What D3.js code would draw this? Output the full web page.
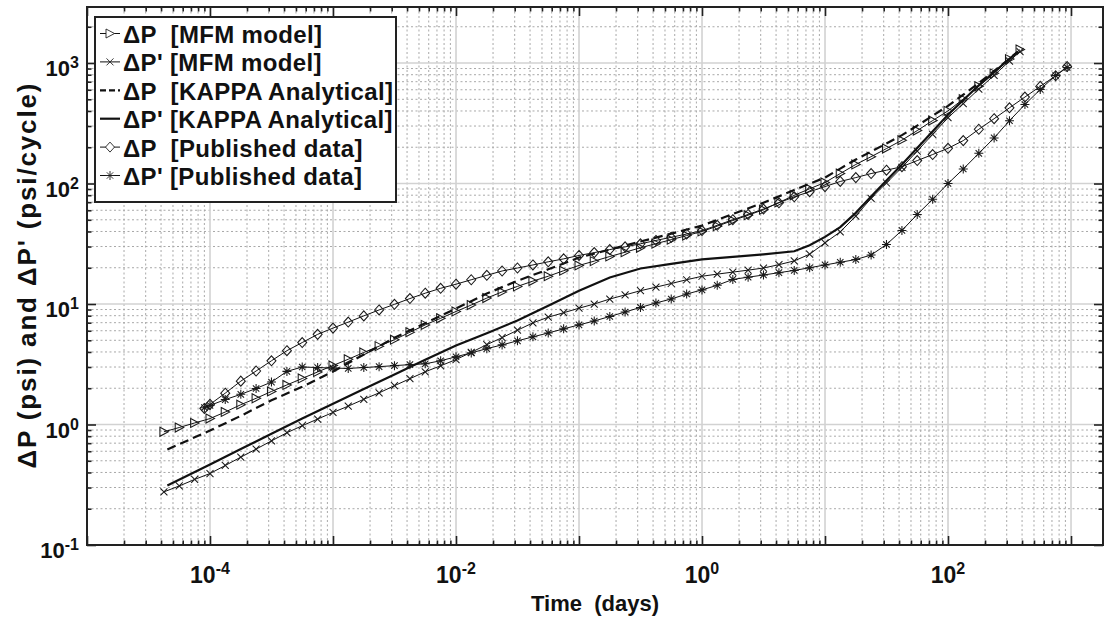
<!DOCTYPE html>
<html>
  <head>
    <meta charset="utf-8">
    <title> Pressure and derivative vs time </title>
    <script src="https://d3js.org/d3.v7.min.js"></script>
    <style>
      body { margin: 0; background: #fff; }
      text { font-family: "Liberation Sans", Arial, sans-serif; font-weight: bold; fill: #111; }
    </style>
  </head>
  <body>
  <svg width="1105" height="622"></svg>
  <script>

    //model time steps (days) and values
    var tModel = [4.22e-5, 5.62e-5, 7.5e-5, 1e-4, 1.33e-4, 1.78e-4, 2.37e-4, 3.16e-4, 4.22e-4, 5.62e-4, 7.5e-4,
      1e-3, 1.33e-3, 1.78e-3, 2.37e-3, 3.16e-3, 4.22e-3, 5.62e-3, 7.5e-3, 0.01, 0.0133, 0.0178, 0.0237, 0.0316,
      0.0422, 0.0562, 0.075, 0.1, 0.133, 0.178, 0.237, 0.316, 0.422, 0.562, 0.75, 1, 1.33, 1.78, 2.37, 3.16, 4.22,
      5.62, 7.5, 10, 13.3, 17.8, 23.7, 31.6, 42.2, 56.2, 75, 100, 133, 178, 237, 316, 385];
    var mfmDP = [0.87, 0.944, 1.03, 1.12, 1.27, 1.46, 1.65, 1.88, 2.13, 2.41, 2.73, 3.09, 3.48, 3.96, 4.47, 5.06,
      5.83, 6.71, 7.61, 8.67, 9.81, 11.2, 12.6, 14.0, 15.5, 17.0, 18.9, 20.9, 22.7, 24.8, 26.9, 29.3, 31.7, 34.2,
      37.0, 40.0, 44.3, 49.3, 54.6, 60.6, 69.6, 79.8, 90.5, 102, 121, 144, 167, 195, 229, 275, 333, 401, 502, 641,
      821, 1078, 1294];
    var mfmDPd = [0.276, 0.309, 0.350, 0.392, 0.457, 0.536, 0.625, 0.731, 0.855, 0.977, 1.11, 1.26, 1.42, 1.62,
      1.83, 2.10, 2.40, 2.74, 3.07, 3.46, 3.97, 4.60, 5.26, 6.06, 6.98, 7.77, 8.47, 9.23, 10.0, 11.0, 11.9, 12.9,
      13.8, 14.8, 15.9, 17.0, 17.7, 18.4, 19.1, 19.9, 21.2, 22.8, 25.9, 32.2, 39.7, 53.7, 75.4, 101, 136, 186, 256,
      352, 460, 608, 791, 1037, 1246];

    //KAPPA analytical solution
    var tKappa = [4.5e-5, 1e-4, 1.78e-4, 3.16e-4, 5.62e-4, 1e-3, 1.78e-3, 3.16e-3, 5.62e-3, 0.01, 0.0178, 0.0316,
      0.0562, 0.1, 0.178, 0.316, 0.562, 1, 1.78, 3.16, 5.62, 7.5, 10, 13.3, 17.8, 23.7, 31.6, 42.2, 56.2, 100, 178,
      316, 371];
    var kappaDP = [0.620, 0.892, 1.18, 1.59, 2.06, 2.75, 3.81, 5.24, 6.93, 9.18, 12.2, 15.6, 19.4, 24.3, 28.3, 33.0,
      38.4, 44.8, 55.8, 69.3, 88.3, 99.6, 112, 133, 158, 184, 215, 252, 302, 441, 681, 1086, 1246];
    var kappaDPd = [0.312, 0.466, 0.625, 0.837, 1.12, 1.49, 1.97, 2.60, 3.44, 4.52, 5.73, 7.30, 9.66, 12.9, 16.6,
      19.7, 21.5, 23.5, 24.6, 25.8, 27.4, 30.7, 36.1, 43.5, 57.1, 78.2, 106, 144, 197, 372, 654, 1086, 1246];

    //published field data
    var tPub = [9e-5, 1e-4, 1.33e-4, 1.78e-4, 2.37e-4, 3.16e-4, 4.22e-4, 5.62e-4, 7.5e-4, 1e-3, 1.33e-3, 1.78e-3,
      2.37e-3, 3.16e-3, 4.22e-3, 5.62e-3, 7.5e-3, 0.01, 0.0133, 0.0178, 0.0237, 0.0316, 0.0422, 0.0562, 0.075, 0.1,
      0.133, 0.178, 0.237, 0.316, 0.422, 0.562, 0.75, 1, 1.33, 1.78, 2.37, 3.16, 4.22, 5.62, 7.5, 10, 13.3, 17.8,
      23.7, 31.6, 42.2, 56.2, 75, 100, 133, 178, 237, 316, 422, 562, 750, 930];
    var pubDP = [1.36, 1.47, 1.82, 2.29, 2.78, 3.38, 4.10, 4.79, 5.60, 6.31, 7.08, 7.97, 8.93, 9.94, 11.1, 12.3,
      13.5, 14.6, 15.9, 17.3, 18.8, 19.9, 21.1, 22.4, 23.7, 25.3, 26.7, 28.3, 29.8, 31.6, 33.7, 35.8, 38.1, 40.7,
      45.0, 50.1, 55.4, 61.4, 69.2, 77.6, 85.5, 94.3, 104, 112, 121, 129, 138, 155, 174, 196, 227, 282, 345, 425,
      522, 640, 783, 935];
    var pubDPd = [1.38, 1.44, 1.61, 1.78, 1.99, 2.25, 2.76, 3.00, 2.97, 2.94, 2.92, 2.97, 3.02, 3.08, 3.14, 3.19,
      3.38, 3.65, 3.93, 4.26, 4.58, 4.95, 5.34, 5.75, 6.22, 6.71, 7.23, 7.88, 8.58, 9.37, 10.2, 11.0, 12.1, 13.1,
      14.3, 16.0, 16.7, 17.4, 18.2, 19.0, 20.0, 21.1, 22.2, 23.4, 25.5, 31.2, 40.8, 55.3, 74.0, 100, 132, 178, 239,
      332, 453, 603, 788, 918];

    var legendLabels = ["ΔP  [MFM model]", "ΔP' [MFM model]", "ΔP  [KAPPA Analytical]",
      "ΔP' [KAPPA Analytical]", "ΔP  [Published data]", "ΔP' [Published data]"];
    var xLabelExp = [-4, -2, 0, 2];
    var yLabelExp = [-1, 0, 1, 2, 3];

    //setting initial vars
    var svg = d3.select("svg");
    var pLeft = 87, pRight = 1103, pTop = 7, pBottom = 545;

    var x = d3.scaleLog().domain([1e-5, Math.pow(10, 3.26)]).range([pLeft, pRight]);
    var y = d3.scaleLog().domain([0.1, Math.pow(10, 3.465)]).range([pBottom, pTop]);

    //decade and in-between positions of a log scale
    function logPositions(scale) {
      var dom = scale.domain(), major = [], minor = [];
      var lo = Math.floor(Math.log10(dom[0])), hi = Math.ceil(Math.log10(dom[1]));
      for (var d = lo; d <= hi; d++) {
        var p = Math.pow(10, d);
        if (p >= dom[0] * 0.999 && p <= dom[1]) major.push(p);
        for (var k = 2; k <= 9; k++) {
          if (k * p > dom[0] && k * p < dom[1]) minor.push(k * p);
        }
      }
      return {major: major, minor: minor};
    }
    var xp = logPositions(x), yp = logPositions(y);

    //grid: dotted minor, solid light major
    var grid = svg.append("g");
    grid.selectAll(".vmin").data(xp.minor).enter().append("line")
      .attr("x1", function(d) { return x(d); }).attr("x2", function(d) { return x(d); })
      .attr("y1", pTop).attr("y2", pBottom)
      .attr("stroke", "#a8a8a8").attr("stroke-width", 1).attr("stroke-dasharray", "2,2.5");
    grid.selectAll(".hmin").data(yp.minor).enter().append("line")
      .attr("y1", function(d) { return y(d); }).attr("y2", function(d) { return y(d); })
      .attr("x1", pLeft).attr("x2", pRight)
      .attr("stroke", "#a8a8a8").attr("stroke-width", 1).attr("stroke-dasharray", "2,2.5");
    grid.selectAll(".vmaj").data(xp.major).enter().append("line")
      .attr("x1", function(d) { return x(d); }).attr("x2", function(d) { return x(d); })
      .attr("y1", pTop).attr("y2", pBottom)
      .attr("stroke", "#d2d2d2").attr("stroke-width", 1.6);
    grid.selectAll(".hmaj").data(yp.major).enter().append("line")
      .attr("y1", function(d) { return y(d); }).attr("y2", function(d) { return y(d); })
      .attr("x1", pLeft).attr("x2", pRight)
      .attr("stroke", "#d2d2d2").attr("stroke-width", 1.6);

    //marker shapes
    function markerPath(type, cx, cy) {
      if (type == "tri") return "M" + (cx - 4) + "," + (cy - 4.5) + "L" + (cx + 4.5) + "," + cy + "L" + (cx - 4) + "," + (cy + 4.5) + "Z";
      if (type == "x") return "M" + (cx - 3.5) + "," + (cy - 3.5) + "L" + (cx + 3.5) + "," + (cy + 3.5) +
        "M" + (cx - 3.5) + "," + (cy + 3.5) + "L" + (cx + 3.5) + "," + (cy - 3.5);
      if (type == "dia") return "M" + cx + "," + (cy - 5) + "L" + (cx + 4.5) + "," + cy + "L" + cx + "," + (cy + 5) + "L" + (cx - 4.5) + "," + cy + "Z";
      if (type == "star") return "M" + (cx - 4.5) + "," + cy + "L" + (cx + 4.5) + "," + cy + "M" + cx + "," + (cy - 4.5) + "L" + cx + "," + (cy + 4.5) +
        "M" + (cx - 3.2) + "," + (cy - 3.2) + "L" + (cx + 3.2) + "," + (cy + 3.2) + "M" + (cx - 3.2) + "," + (cy + 3.2) + "L" + (cx + 3.2) + "," + (cy - 3.2);
      return "";
    }

    var series = [
      {t: tModel, v: mfmDP, marker: "tri", dash: null, width: 1},
      {t: tModel, v: mfmDPd, marker: "x", dash: null, width: 1},
      {t: tKappa, v: kappaDP, marker: null, dash: "9,5", width: 2.2},
      {t: tKappa, v: kappaDPd, marker: null, dash: null, width: 2.2},
      {t: tPub, v: pubDP, marker: "dia", dash: null, width: 1},
      {t: tPub, v: pubDPd, marker: "star", dash: null, width: 1}
    ];

    var line = d3.line()
      .x(function(d) { return x(d[0]); })
      .y(function(d) { return y(d[1]); });

    //adding the curves
    series.forEach(function(s) {
      var pts = s.t.map(function(t, i) { return [t, s.v[i]]; });
      var g = svg.append("g");
      g.append("path")
        .datum(pts)
        .attr("d", line)
        .attr("fill", "none")
        .attr("stroke", "#111")
        .attr("stroke-width", s.width)
        .attr("stroke-dasharray", s.dash);
      if (s.marker) {
        g.selectAll("path.mk")
          .data(pts)
          .enter()
          .append("path")
          .attr("class", "mk")
          .attr("d", function(d) { return markerPath(s.marker, x(d[0]), y(d[1])); })
          .attr("fill", "none")
          .attr("stroke", "#1a1a1a")
          .attr("stroke-width", 1.05);
      }
    });

    //inward ticks on all four sides
    function addTicks(axis, pos, vals, size) {
      svg.append("g").attr("transform", pos)
        .call(axis.tickValues(vals).tickSize(-size).tickFormat(""))
        .call(function(g) { g.select(".domain").remove(); })
        .selectAll("line").attr("stroke", "#222").attr("stroke-width", 1.6);
    }
    addTicks(d3.axisBottom(x), "translate(0," + pBottom + ")", xp.major, 9);
    addTicks(d3.axisBottom(x), "translate(0," + pBottom + ")", xp.minor, 4.5);
    addTicks(d3.axisTop(x), "translate(0," + pTop + ")", xp.major, 9);
    addTicks(d3.axisTop(x), "translate(0," + pTop + ")", xp.minor, 4.5);
    addTicks(d3.axisLeft(y), "translate(" + pLeft + ",0)", yp.major, 9);
    addTicks(d3.axisLeft(y), "translate(" + pLeft + ",0)", yp.minor, 4.5);
    addTicks(d3.axisRight(y), "translate(" + pRight + ",0)", yp.major, 9);
    addTicks(d3.axisRight(y), "translate(" + pRight + ",0)", yp.minor, 4.5);

    svg.append("rect")
      .attr("x", pLeft).attr("y", pTop)
      .attr("width", pRight - pLeft).attr("height", pBottom - pTop)
      .attr("fill", "none").attr("stroke", "#222").attr("stroke-width", 2);

    //tick labels with exponents
    var xl = svg.selectAll(".xlab").data(xLabelExp).enter().append("text")
      .attr("x", function(d) { return x(Math.pow(10, d)); })
      .attr("y", 583)
      .attr("text-anchor", "middle")
      .style("font-family", "'Liberation Sans Narrow', 'Liberation Sans', Arial, sans-serif")
      .style("font-size", "23px");
    xl.append("tspan").text("10");
    xl.append("tspan").attr("dy", -9).style("font-size", "16px").text(function(d) { return d; });

    var yl = svg.selectAll(".ylab").data(yLabelExp).enter().append("text")
      .attr("x", 79)
      .attr("y", function(d) { return y(Math.pow(10, d)) + 13; })
      .attr("text-anchor", "end")
      .style("font-size", "22px");
    yl.append("tspan").text("10");
    yl.append("tspan").attr("dy", -8).style("font-size", "16px").text(function(d) { return d; });

    //axis titles
    svg.append("text")
      .attr("x", (pLeft + pRight) / 2)
      .attr("y", 611)
      .attr("text-anchor", "middle")
      .style("font-size", "22px")
      .style("white-space", "pre")
      .text("Time  (days)");

    svg.append("text")
      .attr("transform", "translate(36," + (pTop + pBottom) / 2 + ") rotate(-90)")
      .attr("text-anchor", "middle")
      .attr("textLength", 385)
      .attr("lengthAdjust", "spacing")
      .style("font-size", "26px")
      .text("ΔP (psi) and ΔP' (psi/cycle)");

    //legend
    var lg = svg.append("g");
    lg.append("rect")
      .attr("x", 95).attr("y", 17).attr("width", 301).attr("height", 185)
      .attr("fill", "#fff").attr("stroke", "#222").attr("stroke-width", 2);

    legendLabels.forEach(function(label, i) {
      var base = 43 + i * 28.4, cy = base - 9.5, s = series[i];
      lg.append("line")
        .attr("x1", 100).attr("x2", 120).attr("y1", cy).attr("y2", cy)
        .attr("stroke", "#111").attr("stroke-width", s.width)
        .attr("stroke-dasharray", s.dash ? "6,3" : null);
      if (s.marker) {
        lg.append("path")
          .attr("d", markerPath(s.marker, 110, cy))
          .attr("fill", "#fff").attr("stroke", "#222").attr("stroke-width", 0.9);
      }
      lg.append("text")
        .attr("x", 123).attr("y", base)
        .style("font-size", "24px")
        .style("letter-spacing", "0.35px")
        .style("white-space", "pre")
        .text(label);
    });

  </script>
  </body>
</html>
